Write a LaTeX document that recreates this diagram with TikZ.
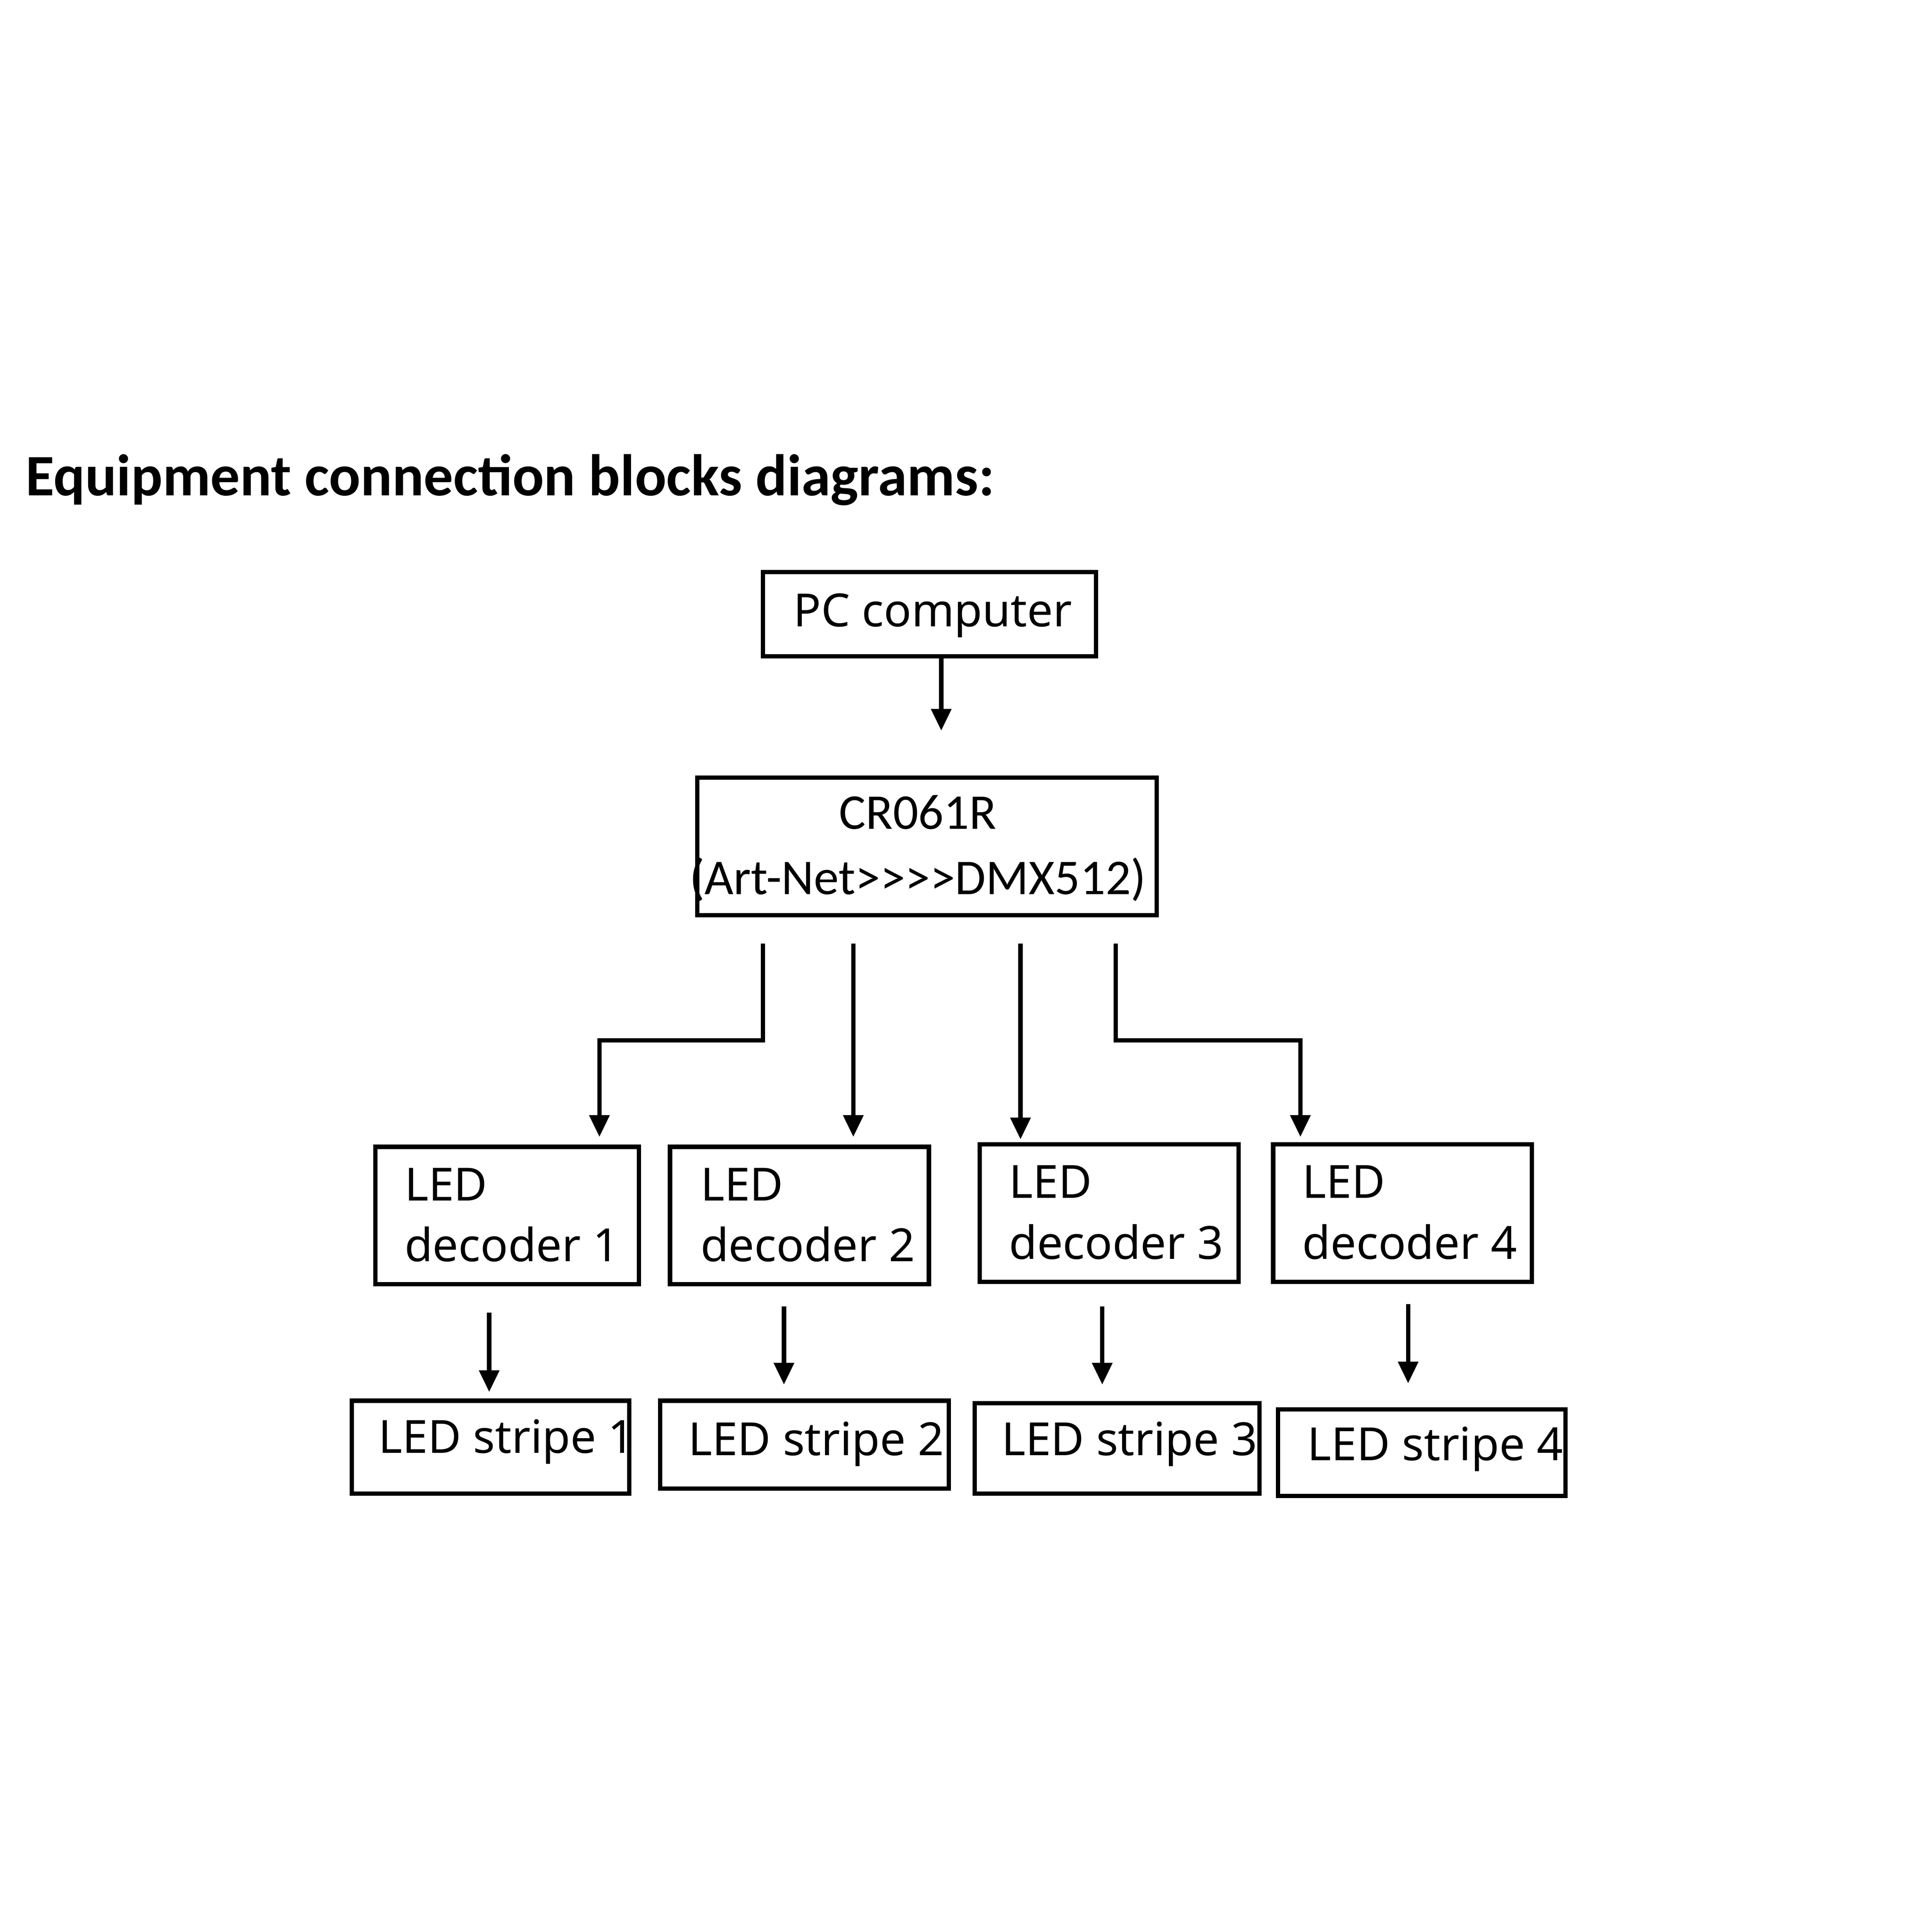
\documentclass[tikz,border=0pt]{standalone}
\usepackage{fontspec}
\setmainfont{Noto Sans}
\newfontfamily\titlefont{Carlito}
\usetikzlibrary{arrows.meta}
\begin{document}
\begin{tikzpicture}[x=0.01cm,y=-0.01cm,
  box/.style={draw,line width=1.6pt,inner sep=0pt,minimum width=#1},
  lbl/.style={font=\fontsize{10.5pt}{14pt}\selectfont,anchor=west,inner sep=0pt,align=left},
  arr/.style={line width=1.4pt,-{Triangle[length=7pt,width=6pt]}}]
\useasboundingbox (0,0) rectangle (1560,1560);
\node[anchor=base west,inner sep=0pt,font=\titlefont\bfseries\fontsize{13.5pt}{16pt}\selectfont] (title) at (20,400) {Equipment connection blocks diagrams:};
% boxes
\draw[line width=1pt] (616,462) rectangle (885,530);
\node[lbl] (pc) at (640,497) {PC computer};
\draw[line width=1pt] (563,628) rectangle (934,739);
\node[font=\titlefont\fontsize{11.5pt}{15pt}\selectfont,align=center,inner sep=0pt] (cr) at (741,685) {CR061R\\(Art-Net>>>>DMX512)};
\draw[line width=1pt] (303,926) rectangle (516,1037);
\node[lbl] (d1) at (326,981) {LED\\decoder 1};
\draw[line width=1pt] (541,926) rectangle (750,1037);
\node[lbl] (d2) at (565,981) {LED\\decoder 2};
\draw[line width=1pt] (791,924) rectangle (1000,1035);
\node[lbl] (d3) at (814,979) {LED\\decoder 3};
\draw[line width=1pt] (1028,924) rectangle (1237,1035);
\node[lbl] (d4) at (1051,979) {LED\\decoder 4};
\draw[line width=1pt] (284,1131) rectangle (508,1206);
\node[lbl] (s1) at (305,1164) {LED stripe 1};
\draw[line width=1pt] (533,1131) rectangle (766,1202);
\node[lbl] (s2) at (555,1166) {LED stripe 2};
\draw[line width=1pt] (787,1133) rectangle (1017,1206);
\node[lbl] (s3) at (808,1166) {LED stripe 3};
\draw[line width=1pt] (1032,1138) rectangle (1264,1208);
\node[lbl] (s4) at (1055,1170) {LED stripe 4};
% connectors
\tikzset{a/.style={line width=1pt,-{Triangle[length=5pt,width=4.5pt]}}}
\coordinate (p0) at (760,530); \coordinate (p1) at (760,590);
\draw[a] (p0) -- (p1);
\coordinate (c1) at (616,762); \coordinate (e1) at (484,918);
\draw[a] (c1) -- (616,840) -| (e1);
\coordinate (c2) at (689,762); \coordinate (e2) at (689,918);
\draw[a] (c2) -- (e2);
\coordinate (c3) at (824,762); \coordinate (e3) at (824,920);
\draw[a] (c3) -- (e3);
\coordinate (c4) at (901,762); \coordinate (e4) at (1050,918);
\draw[a] (c4) -- (901,840) -| (e4);
\coordinate (f1) at (395,1060); \coordinate (g1) at (395,1124);
\draw[a] (f1) -- (g1);
\coordinate (f2) at (633,1055); \coordinate (g2) at (633,1118);
\draw[a] (f2) -- (g2);
\coordinate (f3) at (890,1055); \coordinate (g3) at (890,1118);
\draw[a] (f3) -- (g3);
\coordinate (f4) at (1137,1053); \coordinate (g4) at (1137,1117);
\draw[a] (f4) -- (g4);
\end{tikzpicture}
\end{document}
